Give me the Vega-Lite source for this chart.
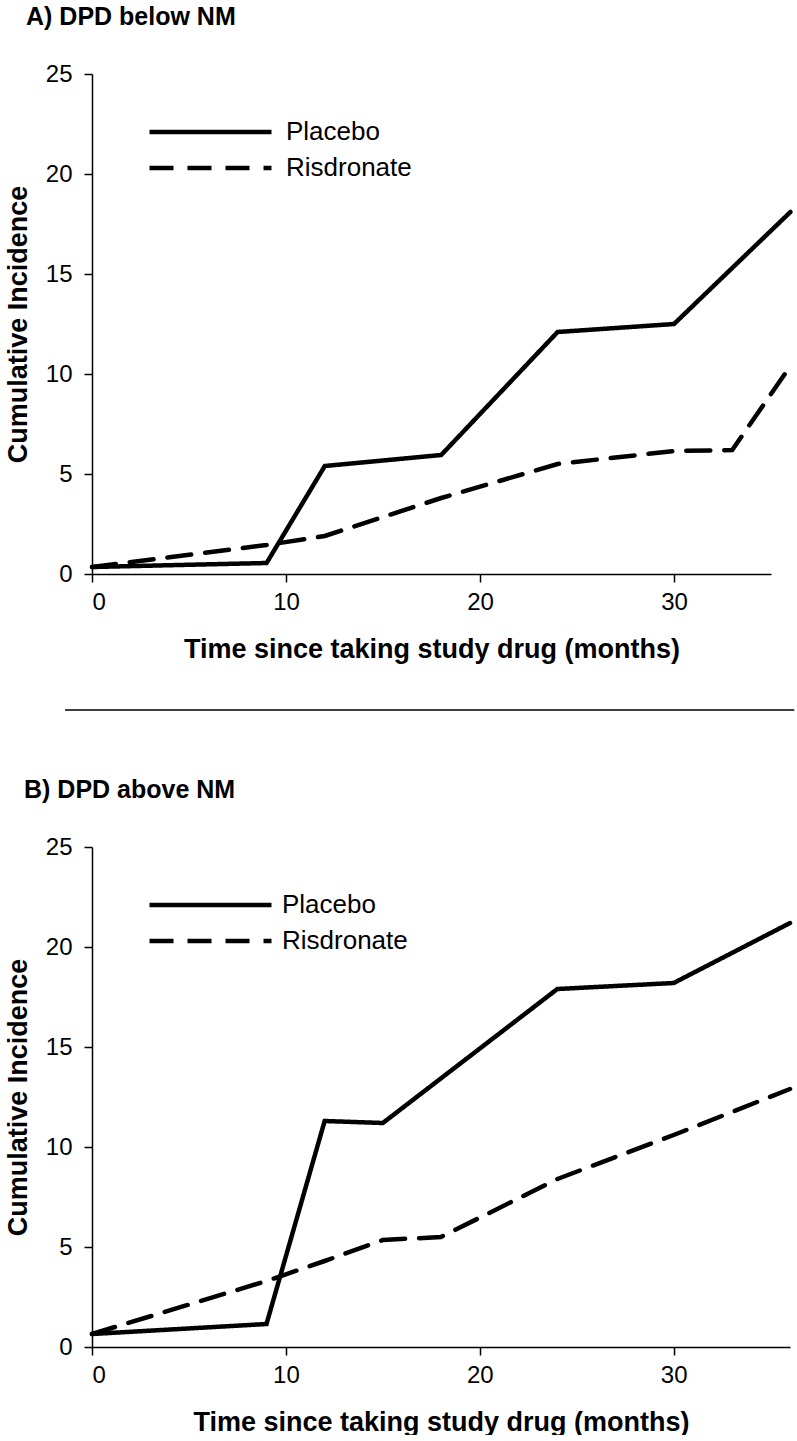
{
  "$schema": "https://vega.github.io/schema/vega-lite/v6.json",
  "background": "white",
  "padding": {"left": 4, "top": 5, "right": 0, "bottom": 0},
  "datasets": {
    "a": [
      {"month": 0, "incidence": 0.35, "series": "Placebo"},
      {"month": 9, "incidence": 0.55, "series": "Placebo"},
      {"month": 12, "incidence": 5.4, "series": "Placebo"},
      {"month": 18, "incidence": 5.95, "series": "Placebo"},
      {"month": 24, "incidence": 12.1, "series": "Placebo"},
      {"month": 30, "incidence": 12.5, "series": "Placebo"},
      {"month": 36, "incidence": 18.1, "series": "Placebo"},
      {"month": 0, "incidence": 0.35, "series": "Risdronate"},
      {"month": 9, "incidence": 1.45, "series": "Risdronate"},
      {"month": 12, "incidence": 1.9, "series": "Risdronate"},
      {"month": 18, "incidence": 3.8, "series": "Risdronate"},
      {"month": 24, "incidence": 5.5, "series": "Risdronate"},
      {"month": 30, "incidence": 6.15, "series": "Risdronate"},
      {"month": 33, "incidence": 6.2, "series": "Risdronate"},
      {"month": 36, "incidence": 10.4, "series": "Risdronate"}
    ],
    "b": [
      {"month": 0, "incidence": 0.65, "series": "Placebo"},
      {"month": 9, "incidence": 1.15, "series": "Placebo"},
      {"month": 12, "incidence": 11.3, "series": "Placebo"},
      {"month": 15, "incidence": 11.2, "series": "Placebo"},
      {"month": 24, "incidence": 17.9, "series": "Placebo"},
      {"month": 30, "incidence": 18.2, "series": "Placebo"},
      {"month": 36, "incidence": 21.2, "series": "Placebo"},
      {"month": 0, "incidence": 0.65, "series": "Risdronate"},
      {"month": 9, "incidence": 3.3, "series": "Risdronate"},
      {"month": 12, "incidence": 4.3, "series": "Risdronate"},
      {"month": 15, "incidence": 5.35, "series": "Risdronate"},
      {"month": 18, "incidence": 5.5, "series": "Risdronate"},
      {"month": 24, "incidence": 8.4, "series": "Risdronate"},
      {"month": 30, "incidence": 10.6, "series": "Risdronate"},
      {"month": 36, "incidence": 12.9, "series": "Risdronate"}
    ],
    "divider": [{"from": -1.39, "to": 36.2, "level": -6.8}]
  },
  "config": {
    "font": "Liberation Sans",
    "view": {"stroke": null},
    "axis": {
      "grid": false,
      "domainColor": "black",
      "domainWidth": 1.5,
      "tickColor": "black",
      "tickWidth": 1.5,
      "tickSize": 8,
      "labelFontSize": 24,
      "labelColor": "black",
      "labelFont": "Liberation Sans",
      "titleFont": "Liberation Sans",
      "titleFontSize": 27,
      "titleFontWeight": "bold",
      "titleColor": "black"
    },
    "axisX": {"labelPadding": 8, "titlePadding": 22},
    "axisY": {"labelPadding": 12, "titlePadding": 13},
    "legend": {
      "orient": "none",
      "title": null,
      "padding": 0,
      "symbolType": "stroke",
      "symbolSize": 14884,
      "symbolStrokeWidth": 4.5,
      "symbolStrokeColor": "black",
      "labelFontSize": 26,
      "labelFont": "Liberation Sans",
      "labelColor": "black",
      "labelOffset": 12,
      "clipHeight": 24,
      "rowPadding": 10,
      "legendX": 55,
      "legendY": 46
    },
    "title": {"font": "Liberation Sans", "fontSize": 25, "fontWeight": "bold", "color": "black", "anchor": "start", "frame": "group"}
  },
  "spacing": 67,
  "resolve": {"scale": {"x": "independent", "y": "independent", "strokeDash": "independent"}, "legend": {"strokeDash": "independent"}},
  "vconcat": [
    {
      "title": {"text": "A) DPD below NM", "dx": -66, "offset": 32},
      "width": 679,
      "height": 500,
      "layer": [
        {
          "data": {"name": "a"},
          "mark": {"type": "line", "color": "black", "strokeWidth": 4.5, "strokeCap": "round", "strokeJoin": "miter", "clip": false},
          "encoding": {
            "x": {"field": "month", "type": "quantitative", "scale": {"domain": [0, 35], "nice": false}, "axis": {"values": [0, 10, 20, 30], "title": "Time since taking study drug (months)"}},
            "y": {"field": "incidence", "type": "quantitative", "scale": {"domain": [0, 25], "nice": false}, "axis": {"values": [0, 5, 10, 15, 20, 25], "title": "Cumulative Incidence"}},
            "strokeDash": {"field": "series", "type": "nominal", "scale": {"domain": ["Placebo", "Risdronate"], "range": [[1, 0], [24, 14]]}}
          }
        },
        {
          "data": {"name": "divider"},
          "mark": {"type": "rule", "color": "black", "strokeWidth": 1.5, "clip": false},
          "encoding": {
            "x": {"field": "from", "type": "quantitative"},
            "x2": {"field": "to"},
            "y": {"field": "level", "type": "quantitative"}
          }
        }
      ]
    },
    {
      "title": {"text": "B) DPD above NM", "dx": -68, "offset": 32},
      "width": 698,
      "height": 500,
      "data": {"name": "b"},
      "mark": {"type": "line", "color": "black", "strokeWidth": 4.5, "strokeCap": "round", "strokeJoin": "miter", "clip": false},
      "encoding": {
        "x": {"field": "month", "type": "quantitative", "scale": {"domain": [0, 36], "nice": false}, "axis": {"values": [0, 10, 20, 30], "title": "Time since taking study drug (months)"}},
        "y": {"field": "incidence", "type": "quantitative", "scale": {"domain": [0, 25], "nice": false}, "axis": {"values": [0, 5, 10, 15, 20, 25], "title": "Cumulative Incidence"}},
        "strokeDash": {"field": "series", "type": "nominal", "scale": {"domain": ["Placebo", "Risdronate"], "range": [[1, 0], [24, 14]]}, "legend": {"labelOffset": 8}}
      }
    }
  ]
}
